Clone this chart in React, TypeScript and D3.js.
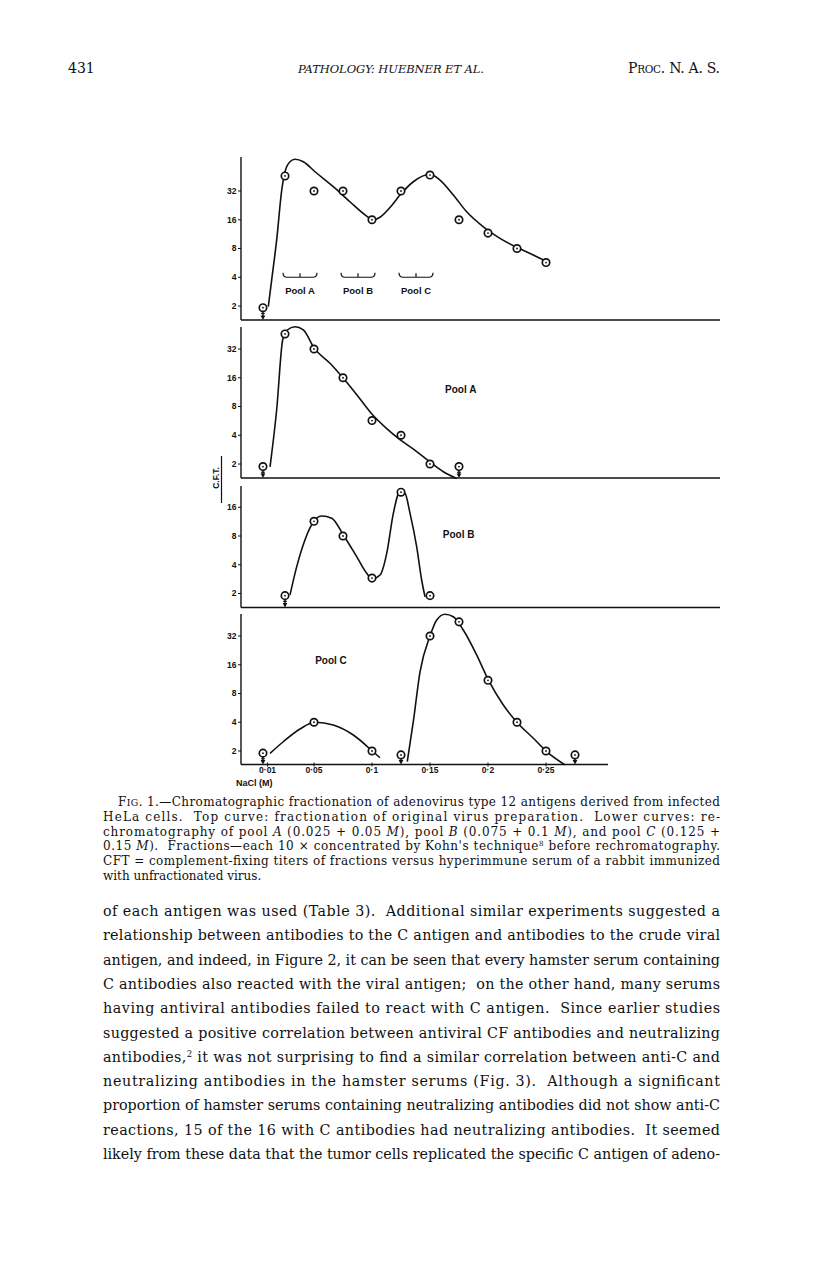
import { useEffect, useRef } from "react";
import * as d3 from "d3";

type Pt = [number, number];

// NaCl molarity of each fraction and its complement-fixing titer (C.F.T.)
// "less" lists the fractions plotted as below 2 (drawn with a down arrow)
const topM = [0.006, 0.025, 0.05, 0.075, 0.1, 0.125, 0.15, 0.175, 0.2, 0.225, 0.25];
const topCFT = [1.92, 46, 32, 32, 16, 32, 47, 16, 11.6, 8, 5.7];
const topLess = [0];

const poolAM = [0.006, 0.025, 0.05, 0.075, 0.1, 0.125, 0.15, 0.175];
const poolACFT = [1.88, 46, 32, 16, 5.7, 4, 2, 1.88];
const poolALess = [0, 7];

const poolBM = [0.025, 0.05, 0.075, 0.1, 0.125, 0.15];
const poolBCFT = [1.9, 11.4, 8, 2.9, 23, 1.9];
const poolBLess = [0];

const poolCM = [0.006, 0.05, 0.1, 0.125, 0.15, 0.175, 0.2, 0.225, 0.25, 0.275];
const poolCCFT = [1.9, 4, 2, 1.82, 32, 45, 11, 4, 2, 1.82];
const poolCLess = [0, 3, 9];

// hand-drawn fitted curves
const topCurve: Pt[] = [
  [0.0106, 1.97], [0.0135, 3.74], [0.0178, 9.8], [0.0222, 32.8], [0.025, 50.9],
  [0.0293, 64.8], [0.0336, 68.7], [0.0408, 64.8], [0.0509, 50.9], [0.0666, 35.5],
  [0.081, 24.7], [0.0954, 17.5], [0.1006, 15.9], [0.1069, 17], [0.117, 22.6],
  [0.1241, 29], [0.1356, 40], [0.15, 47.9], [0.1586, 41.7], [0.1701, 29.1],
  [0.1816, 19.4], [0.196, 13.5], [0.2103, 10.2], [0.2247, 8.24], [0.239, 6.84],
  [0.2506, 5.82],
];
const poolACurve: Pt[] = [
  [0.0121, 1.87], [0.0178, 7.35], [0.023, 39.8], [0.027, 50.6], [0.0336, 54.8],
  [0.0408, 50.6], [0.0503, 32.5], [0.0638, 22.7], [0.0753, 15.8], [0.0897, 9.6],
  [0.1003, 6.6], [0.1127, 4.7], [0.1241, 3.6], [0.1385, 2.7], [0.15, 2.1],
  [0.1615, 1.66], [0.173, 1.41],
];
const poolBCurve: Pt[] = [
  [0.0293, 1.93], [0.0351, 3.82], [0.0422, 7.27], [0.0503, 11.6], [0.0566, 12.96],
  [0.0653, 12.3], [0.0753, 8.2], [0.0868, 4.86], [0.0954, 3.26], [0.1003, 2.84],
  [0.1069, 3.12], [0.1127, 5.27], [0.1184, 13.8], [0.1241, 23.3], [0.1284, 22.4],
  [0.1328, 13.8], [0.1385, 6.18], [0.1428, 2.77], [0.1457, 1.85],
];
const poolCCurveLow: Pt[] = [
  [0.0121, 1.89], [0.0235, 2.5], [0.0379, 3.4], [0.0509, 4.0], [0.0666, 3.74],
  [0.0839, 2.94], [0.1003, 2], [0.1069, 1.7],
];
const poolCCurveHigh: Pt[] = [
  [0.1304, 1.55], [0.1356, 4.05], [0.1414, 13.5], [0.15, 32], [0.1558, 47.1],
  [0.1629, 54], [0.1701, 50.9], [0.1787, 37], [0.1903, 20.2], [0.2003, 11.1],
  [0.2132, 6.06], [0.2253, 3.96], [0.2391, 2.72], [0.2506, 1.97], [0.2664, 1.43],
];

const pools = ["Pool A", "Pool B", "Pool C"];
const poolFrom = [0.025, 0.075, 0.125];
const poolTo = [0.05, 0.1, 0.15];

const xTicks = [0.01, 0.05, 0.1, 0.15, 0.2, 0.25];
const xTickLabels = ["0·01", "0·05", "0·1", "0·15", "0·2", "0·25"];

const headerLeft = "431";
const headerMid = "PATHOLOGY: HUEBNER ET AL.";

type Seg = { t: string; i?: boolean; sup?: boolean; sc?: boolean };
const caption: Seg[][] = [
  [{ t: "F" }, { t: "IG", sc: true }, { t: ". 1.—Chromatographic fractionation of adenovirus type 12 antigens derived from infected" }],
  [{ t: "HeLa cells.  Top curve: fractionation of original virus preparation.  Lower curves: re-" }],
  [{ t: "chromatography of pool " }, { t: "A", i: true }, { t: " (0.025 + 0.05 " }, { t: "M", i: true }, { t: "), pool " }, { t: "B", i: true }, { t: " (0.075 + 0.1 " }, { t: "M", i: true }, { t: "), and pool " }, { t: "C", i: true }, { t: " (0.125 +" }],
  [{ t: "0.15 " }, { t: "M", i: true }, { t: ").  Fractions—each 10 × concentrated by Kohn's technique" }, { t: "8", sup: true }, { t: " before rechromatography." }],
  [{ t: "CFT = complement-fixing titers of fractions versus hyperimmune serum of a rabbit immunized" }],
  [{ t: "with unfractionated virus." }],
];

const body: Seg[][] = [
  [{ t: "of each antigen was used (Table 3).  Additional similar experiments suggested a" }],
  [{ t: "relationship between antibodies to the C antigen and antibodies to the crude viral" }],
  [{ t: "antigen, and indeed, in Figure 2, it can be seen that every hamster serum containing" }],
  [{ t: "C antibodies also reacted with the viral antigen;  on the other hand, many serums" }],
  [{ t: "having antiviral antibodies failed to react with C antigen.  Since earlier studies" }],
  [{ t: "suggested a positive correlation between antiviral CF antibodies and neutralizing" }],
  [{ t: "antibodies," }, { t: "2", sup: true }, { t: " it was not surprising to find a similar correlation between anti-C and" }],
  [{ t: "neutralizing antibodies in the hamster serums (Fig. 3).  Although a significant" }],
  [{ t: "proportion of hamster serums containing neutralizing antibodies did not show anti-C" }],
  [{ t: "reactions, 15 of the 16 with C antibodies had neutralizing antibodies.  It seemed" }],
  [{ t: "likely from these data that the tumor cells replicated the specific C antigen of adeno-" }],
];

const SANS = "Liberation Sans, Arial, sans-serif";
const SERIF = "DejaVu Serif, serif";
const INK = "#111";

export default function App() {
  const ref = useRef<SVGSVGElement | null>(null);

  useEffect(() => {
    if (!ref.current) return;
    const svg = d3.select(ref.current);
    svg.selectAll("*").remove();

    const x = d3.scaleLinear().domain([0, 0.25]).range([256, 546]);
    const axisX = 241;

    const panels = [
      { m: topM, v: topCFT, less: topLess, curves: [topCurve], y2: 306, bottom: 320, top: 157, right: 720, ticks: [2, 4, 8, 16, 32], label: null as null | { t: string; m: number; v: number } },
      { m: poolAM, v: poolACFT, less: poolALess, curves: [poolACurve], y2: 464, bottom: 478, top: 327, right: 720, ticks: [2, 4, 8, 16, 32], label: { t: "Pool A", m: 0.163, v: 11 } },
      { m: poolBM, v: poolBCFT, less: poolBLess, curves: [poolBCurve], y2: 593.5, bottom: 607.5, top: 486, right: 720, ticks: [2, 4, 8, 16], label: { t: "Pool B", m: 0.161, v: 7.7 } },
      { m: poolCM, v: poolCCFT, less: poolCLess, curves: [poolCCurveLow, poolCCurveHigh], y2: 751, bottom: 764.5, top: 614, right: 608, ticks: [2, 4, 8, 16, 32], label: { t: "Pool C", m: 0.051, v: 16.3 } },
    ];

    const g = svg.append("g");

    panels.forEach((p, pi) => {
      const y = d3.scaleLog().base(2).domain([2, 32]).range([p.y2, p.y2 - 115]);

      // axes
      g.append("line").attr("x1", axisX).attr("x2", axisX).attr("y1", p.top).attr("y2", p.bottom)
        .attr("stroke", INK).attr("stroke-width", 1.4);
      g.append("line").attr("x1", axisX).attr("x2", p.right).attr("y1", p.bottom).attr("y2", p.bottom)
        .attr("stroke", INK).attr("stroke-width", 1.6);

      p.ticks.forEach((t) => {
        g.append("line").attr("x1", axisX - 3).attr("x2", axisX).attr("y1", y(t)).attr("y2", y(t))
          .attr("stroke", INK).attr("stroke-width", 1);
        g.append("text").attr("x", axisX - 4.5).attr("y", y(t)).attr("dy", "0.35em")
          .attr("text-anchor", "end").attr("font-family", SANS).attr("font-weight", 700)
          .attr("font-size", 8.5).attr("fill", INK).text(String(t));
      });

      // fitted curves
      const line = d3.line<Pt>().x((d) => x(d[0])).y((d) => y(d[1])).curve(d3.curveMonotoneX);
      p.curves.forEach((c) => {
        g.append("path").datum(c).attr("d", line).attr("fill", "none")
          .attr("stroke", INK).attr("stroke-width", 1.6);
      });

      // fraction markers
      p.m.forEach((mv, i) => {
        const cx = x(mv);
        const cy = y(p.v[i]);
        if (p.less.includes(i)) {
          g.append("line").attr("x1", cx).attr("x2", cx).attr("y1", cy + 3.7).attr("y2", p.bottom - 3)
            .attr("stroke", INK).attr("stroke-width", 1.5);
          g.append("line").attr("x1", cx - 2).attr("x2", cx + 2).attr("y1", cy + 5.7).attr("y2", cy + 5.7)
            .attr("stroke", INK).attr("stroke-width", 1);
          g.append("path")
            .attr("d", `M${cx - 2.4},${p.bottom - 4.5}L${cx + 2.4},${p.bottom - 4.5}L${cx},${p.bottom}Z`)
            .attr("fill", INK);
        }
        g.append("circle").attr("cx", cx).attr("cy", cy).attr("r", 3.7)
          .attr("fill", "#fff").attr("stroke", INK).attr("stroke-width", 1.7);
        g.append("circle").attr("cx", cx).attr("cy", cy).attr("r", 0.9).attr("fill", INK);
      });

      if (p.label) {
        g.append("text").attr("x", x(p.label.m)).attr("y", y(p.label.v))
          .attr("font-family", SANS).attr("font-weight", 700).attr("font-size", 10)
          .attr("fill", INK).text(p.label.t);
      }

      // pool brackets on the top panel
      if (pi === 0) {
        const yb = y(4);
        pools.forEach((name, k) => {
          const x0 = x(poolFrom[k]) - 2;
          const x1 = x(poolTo[k]) + 3;
          const xc = (x0 + x1) / 2;
          g.append("path")
            .attr("d", `M${x0},${yb - 4.5}Q${x0},${yb} ${x0 + 4},${yb}L${x1 - 4},${yb}Q${x1},${yb} ${x1},${yb - 4.5}M${xc},${yb}L${xc},${yb - 4}`)
            .attr("fill", "none").attr("stroke", INK).attr("stroke-width", 1.2);
          g.append("text").attr("x", xc).attr("y", yb + 17).attr("text-anchor", "middle")
            .attr("font-family", SANS).attr("font-weight", 700).attr("font-size", 9.5)
            .attr("fill", INK).text(name);
        });
      }

      // molarity axis on the bottom panel
      if (pi === panels.length - 1) {
        xTicks.forEach((t, k) => {
          g.append("line").attr("x1", x(t)).attr("x2", x(t)).attr("y1", p.bottom - 2).attr("y2", p.bottom + 2)
            .attr("stroke", INK).attr("stroke-width", 1);
          g.append("text").attr("x", x(t)).attr("y", p.bottom + 8.5).attr("text-anchor", "middle")
            .attr("font-family", SANS).attr("font-weight", 700).attr("font-size", 8.5)
            .attr("fill", INK).text(xTickLabels[k]);
        });
        g.append("text").attr("x", 236).attr("y", p.bottom + 21.5)
          .attr("font-family", SANS).attr("font-weight", 700).attr("font-size", 9)
          .attr("fill", INK).text("NaCl (M)");
      }
    });

    // C.F.T. label
    g.append("text").attr("transform", "translate(219,478) rotate(-90)").attr("text-anchor", "middle")
      .attr("font-family", SANS).attr("font-weight", 700).attr("font-size", 8.5)
      .attr("fill", INK).text("C.F.T.");
    g.append("line").attr("x1", 221.5).attr("x2", 221.5).attr("y1", 456).attr("y2", 503)
      .attr("stroke", INK).attr("stroke-width", 1.2);

    // running header
    g.append("text").attr("x", 68).attr("y", 73).attr("font-family", SERIF).attr("font-size", 14)
      .attr("fill", INK).text(headerLeft);
    g.append("text").attr("x", 298).attr("y", 73).attr("font-family", SERIF).attr("font-style", "italic")
      .attr("font-size", 11.5).attr("textLength", 186).attr("lengthAdjust", "spacing")
      .style("white-space", "pre").attr("fill", INK).text(headerMid);
    const pr = g.append("text").attr("x", 628).attr("y", 73).attr("font-family", SERIF).attr("font-size", 14)
      .attr("textLength", 92).attr("lengthAdjust", "spacing").attr("fill", INK);
    [["P", 14], ["ROC", 10.5], [". N. A. S.", 14]].forEach(([t, s]) => {
      pr.append("tspan").attr("font-size", s as number).text(t as string);
    });

    const writeLines = (lines: Seg[][], x0: number, firstX: number, yStart: number, lh: number, size: number, justifyLast: boolean) => {
      lines.forEach((segs, li) => {
        const lx = li === 0 ? firstX : x0;
        const txt = g.append("text").attr("x", lx).attr("y", yStart + li * lh)
          .attr("font-family", SERIF).attr("font-size", size).attr("fill", INK)
          .style("white-space", "pre");
        if (li < lines.length - 1 || justifyLast) {
          txt.attr("textLength", 720 - lx).attr("lengthAdjust", "spacing");
        }
        segs.forEach((s) => {
          const ts = txt.append("tspan").text(s.t);
          if (s.i) ts.attr("font-style", "italic");
          if (s.sc) ts.attr("font-size", size * 0.78);
          if (s.sup) ts.attr("font-size", size * 0.6).attr("baseline-shift", "super");
        });
      });
    };

    writeLines(caption, 103, 118, 806, 14.8, 12, false);
    writeLines(body, 103, 103, 916, 24.3, 14.3, true);
  }, []);

  return (
    <svg
      ref={ref}
      width={816}
      height={1261}
      viewBox="0 0 816 1261"
      style={{ position: "absolute", left: 0, top: 0, background: "#fff" }}
    />
  );
}
